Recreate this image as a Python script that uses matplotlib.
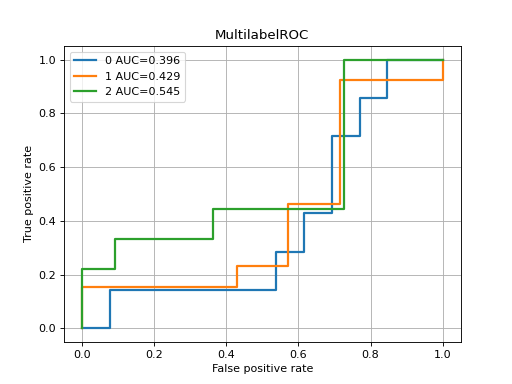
import matplotlib
matplotlib.use('Agg')
import matplotlib.pyplot as plt

# roc points per class
fpr_0 = [0, 1/13, 1/13, 7/13, 7/13, 8/13, 8/13, 9/13, 9/13, 10/13, 10/13, 11/13, 11/13, 1]
tpr_0 = [0, 0, 1/7, 1/7, 2/7, 2/7, 3/7, 3/7, 5/7, 5/7, 6/7, 6/7, 1, 1]

fpr_1 = [0, 0, 3/7, 3/7, 4/7, 4/7, 5/7, 5/7, 1, 1]
tpr_1 = [0, 2/13, 2/13, 3/13, 3/13, 6/13, 6/13, 12/13, 12/13, 1]

fpr_2 = [0, 0, 1/11, 1/11, 4/11, 4/11, 8/11, 8/11, 1]
tpr_2 = [0, 2/9, 2/9, 3/9, 3/9, 4/9, 4/9, 1, 1]

auc = [0.396, 0.429, 0.545]

plt.figure(figsize=(6.4, 4.8), dpi=80)
plt.plot(fpr_0, tpr_0, lw=2, label='0 AUC=%.3f' % auc[0])
plt.plot(fpr_1, tpr_1, lw=2, label='1 AUC=%.3f' % auc[1])
plt.plot(fpr_2, tpr_2, lw=2, label='2 AUC=%.3f' % auc[2])
plt.title('MultilabelROC')
plt.xlabel('False positive rate')
plt.ylabel('True positive rate')
plt.grid(True)
plt.legend(loc='upper left')
plt.savefig('out.png', dpi=80)
